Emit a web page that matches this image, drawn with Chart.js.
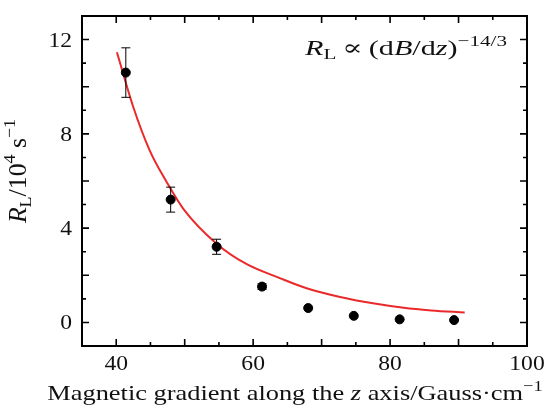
<!DOCTYPE html>
<html>
<head>
<meta charset="utf-8">
<script src="https://cdn.jsdelivr.net/npm/chart.js@4.4.1/dist/chart.umd.min.js"></script>
<style>
  html, body { margin: 0; padding: 0; background: #fff; }
  #wrap { width: 549px; height: 406px; }
</style>
</head>
<body>
<div id="wrap"><canvas id="c" width="549" height="406"></canvas></div>
<script>
// measured points (x: gradient, y: R_L in 1e4 s^-1) and their error bars
const xVals = [41.4, 47.95, 54.66, 61.3, 68.04, 74.7, 81.4, 89.35];
const yVals = [10.6, 5.21, 3.21, 1.52, 0.61, 0.28, 0.13, 0.10];
const yErr  = [1.05, 0.53, 0.32, 0.12, 0, 0, 0, 0];

// red fit curve
const fitX = [40.1, 42.5, 44.9, 47.4, 49.8, 54.7, 59.0, 63.9, 67.8, 72.7, 77.5, 82.0, 86.0, 90.9];
const fitY = [11.46, 9.13, 7.29, 5.94, 4.82, 3.33, 2.48, 1.88, 1.45, 1.08, 0.81, 0.62, 0.51, 0.42];

const xTickLabels = [40, 60, 80, 100];
const yTickLabels = [0, 4, 8, 12];

const FONT = '"Liberation Serif", "DejaVu Serif", serif';
const SX = 1.18; // the reference text is a bit wide

// draws text made of pieces: {t, i (italic), sub, sup}, stretched by sx
function drawRich(ctx, segs, x, y, size, align, sx) {
    const fontFor = s => {
        const sz = (s.sub || s.sup) ? size * 0.7 : size;
        return (s.i ? 'italic ' : '') + sz + 'px ' + FONT;
    };
    let total = 0;
    segs.forEach(s => { ctx.font = fontFor(s); total += ctx.measureText(s.t).width; });
    ctx.save();
    ctx.translate(x, y);
    ctx.scale(sx, 1);
    let cx = align === 'center' ? -total / 2 : (align === 'right' ? -total : 0);
    ctx.textAlign = 'left';
    ctx.textBaseline = 'alphabetic';
    segs.forEach(s => {
        ctx.font = fontFor(s);
        let dy = 0;
        if (s.sup) dy = -size * 0.42;
        if (s.sub) dy = size * 0.2;
        ctx.fillText(s.t, cx, dy);
        cx += ctx.measureText(s.t).width;
    });
    ctx.restore();
}

function richWidth(ctx, segs, size) {
    let total = 0;
    segs.forEach(s => {
        const sz = (s.sub || s.sup) ? size * 0.7 : size;
        ctx.font = (s.i ? 'italic ' : '') + sz + 'px ' + FONT;
        total += ctx.measureText(s.t).width;
    });
    return total;
}

const framePlugin = {
    id: 'frame',
    afterDatasetsDraw(chart) {
        const ctx = chart.ctx;
        const xs = chart.scales.x, ys = chart.scales.y;
        ctx.save();
        ctx.strokeStyle = '#000';
        ctx.lineWidth = 1;
        xVals.forEach((xv, i) => {
            if (!yErr[i]) return;
            const px = xs.getPixelForValue(xv);
            const top = ys.getPixelForValue(yVals[i] + yErr[i]);
            const bot = ys.getPixelForValue(yVals[i] - yErr[i]);
            ctx.beginPath();
            ctx.moveTo(px, top); ctx.lineTo(px, bot);
            ctx.moveTo(px - 4.5, top); ctx.lineTo(px + 4.5, top);
            ctx.moveTo(px - 4.5, bot); ctx.lineTo(px + 4.5, bot);
            ctx.stroke();
        });
        ctx.restore();
    },
    afterDraw(chart) {
        const ctx = chart.ctx;
        const a = chart.chartArea;
        const xs = chart.scales.x, ys = chart.scales.y;
        ctx.save();
        ctx.strokeStyle = '#000';
        ctx.lineWidth = 2;
        ctx.strokeRect(a.left, a.top, a.right - a.left, a.bottom - a.top);
        ctx.lineWidth = 1.6;
        ctx.beginPath();
        for (let v = 40; v < 100; v += 5) {
            const p = xs.getPixelForValue(v);
            const len = v % 10 === 0 ? 7 : 4;
            ctx.moveTo(p, a.bottom); ctx.lineTo(p, a.bottom - len);
            ctx.moveTo(p, a.top); ctx.lineTo(p, a.top + len);
        }
        for (let v = 0; v < 13; v += 1) {
            const p = ys.getPixelForValue(v);
            const len = v % 2 === 0 ? 7 : 4;
            ctx.moveTo(a.left, p); ctx.lineTo(a.left + len, p);
            ctx.moveTo(a.right, p); ctx.lineTo(a.right - len, p);
        }
        ctx.stroke();

        ctx.fillStyle = '#111';
        // tick labels
        xTickLabels.forEach(v => {
            drawRich(ctx, [{ t: String(v) }], xs.getPixelForValue(v), a.bottom + 24, 20, 'center', SX);
        });
        yTickLabels.forEach(v => {
            drawRich(ctx, [{ t: String(v) }], a.left - 10, ys.getPixelForValue(v) + 7, 20, 'right', SX);
        });

        // x title
        drawRich(ctx, [
            { t: 'Magnetic gradient along the ' }, { t: 'z', i: true },
            { t: ' axis/Gauss\u00b7cm' }, { t: '\u22121', sup: true }
        ], 295, 400, 22, 'center', 1.2);

        // y title, rotated
        ctx.save();
        ctx.translate(26, 171);
        ctx.rotate(-Math.PI / 2);
        ctx.scale(1, 1.15);
        drawRich(ctx, [
            { t: 'R', i: true }, { t: 'L', sub: true }, { t: '/10' }, { t: '4', sup: true },
            { t: ' s' }, { t: '\u22121', sup: true }
        ], 0, 0, 22, 'center', 1.17);
        ctx.restore();

        // formula in the corner, fitted to the width it has in the picture
        const formula = [
            { t: 'R', i: true }, { t: 'L', sub: true }, { t: '\u2009\u221d\u2009(d' }, { t: 'B', i: true },
            { t: '/d' }, { t: 'z', i: true }, { t: ')' }, { t: '\u221214/3', sup: true }
        ];
        const fw = richWidth(ctx, formula, 22);
        drawRich(ctx, formula, 305, 55, 22, 'left', 202 / fw);
        ctx.restore();
    }
};

new Chart(document.getElementById('c'), {
    type: 'scatter',
    data: {
        datasets: [
            {
                label: 'data',
                data: xVals.map((x, i) => ({ x: x, y: yVals[i] })),
                backgroundColor: '#000',
                borderColor: '#000',
                pointRadius: 4.5,
                pointHoverRadius: 4.5,
                order: 0
            },
            {
                label: 'fit',
                data: fitX.map((x, i) => ({ x: x, y: fitY[i] })),
                showLine: true,
                borderColor: '#ea2a2a',
                borderWidth: 2,
                pointRadius: 0,
                cubicInterpolationMode: 'monotone',
                order: 1
            }
        ]
    },
    options: {
        responsive: false,
        animation: false,
        layout: { padding: { left: 0, top: 16, right: 22, bottom: 0 } },
        plugins: { legend: { display: false }, tooltip: { enabled: false } },
        scales: {
            x: {
                type: 'linear', min: 35, max: 100,
                grid: { display: false },
                border: { display: false },
                ticks: { display: false, stepSize: 5 },
                afterFit: s => { s.height = 60; }
            },
            y: {
                type: 'linear', min: -1, max: 13,
                grid: { display: false },
                border: { display: false },
                ticks: { display: false, stepSize: 1 },
                afterFit: s => { s.width = 82; }
            }
        }
    },
    plugins: [framePlugin]
});
</script>
</body>
</html>
